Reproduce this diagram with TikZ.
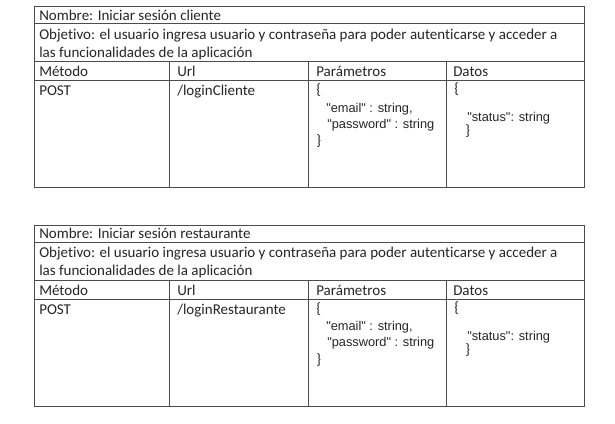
\documentclass[tikz,border=0pt]{standalone}
\usepackage{fontspec}
\setmainfont{Carlito}[Ligatures=NoCommon]
\newfontfamily\jsonfont{Liberation Sans}
\usetikzlibrary{positioning}
\tikzset{
	x=0.75pt, y=-0.75pt,
	grid/.style={draw=black!70, line width=0.75pt},
	txt/.style={anchor=base west, inner sep=0pt, text=black!85, font=\fontsize{11.25}{13.5}\selectfont},
	json/.style={anchor=base west, inner sep=0pt, text=black!85, font=\jsonfont\fontsize{9.6}{12}\selectfont},
}

\begin{document}
\begin{tikzpicture}
	\useasboundingbox[fill=white] (0,0) rectangle (615,424);
	\foreach \oy/\nom/\url [count=\i] in {0/cliente/loginCliente, 218.5/restaurante/loginRestaurante}{
		\begin{scope}[shift={(0,\oy)}]
			% marco y filas
			\draw[grid] (34,7) rectangle (584,188);
			\draw[grid] (34,24) -- (584,24)
				(34,62) -- (584,62)
				(34,81) -- (584,81);
			% columnas
			\draw[grid] (169,62) -- (169,188)
				(308,62) -- (308,188)
				(446,62) -- (446,188);

			\node[txt] (nombre\i) at (39,20.5) {Nombre: Iniciar sesión \nom};
			\node[txt] (obj\i) at (39,39.3) {Objetivo: el usuario ingresa usuario y contraseña para poder autenticarse y acceder a};
			\node[txt] (objb\i) at (39,57.3) {las funcionalidades de la aplicación};

			\node[txt] (metodo\i) at (39,76.7) {Método};
			\node[txt] (urlh\i) at (177,76.7) {Url};
			\node[txt] (param\i) at (316,76.7) {Parámetros};
			\node[txt] (datos\i) at (453,76.7) {Datos};

			\node[txt] (post\i) at (39,95.7) {POST};
			\node[txt] (url\i) at (177,95.7) {/\url};

			\node[txt] (pa\i) at (316,95) {\{};
			\node[json] (email\i) at (326,112.3) {"email" : string,};
			\node[json] (pass\i) at (327,128.3) {"password" : string};
			\node[txt] (pc\i) at (316,145.5) {\}};

			\node[txt] (da\i) at (454,94) {\{};
			\node[json] (status\i) at (467,121.7) {"status": string};
			\node[txt] (dc\i) at (465,136) {\}};
		\end{scope}
	}
\end{tikzpicture}
\end{document}
